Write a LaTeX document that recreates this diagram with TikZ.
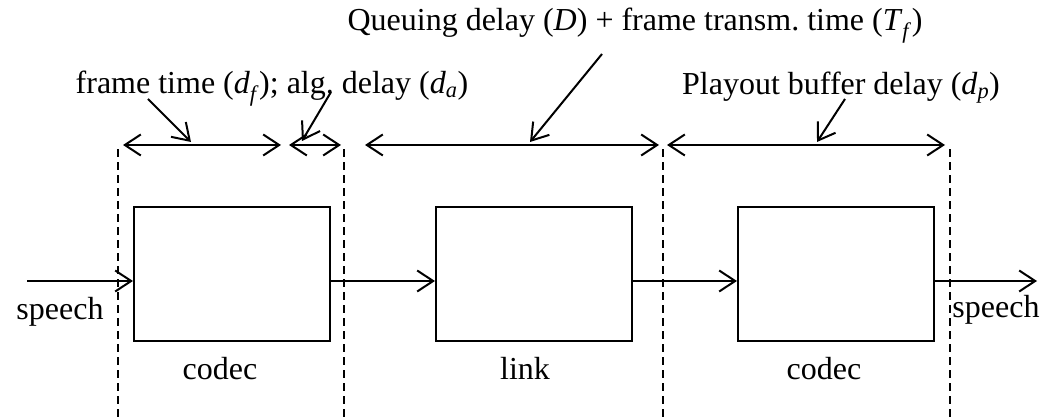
\documentclass[tikz,border=0pt]{standalone}
\usepackage{fontspec}
\setmainfont{Liberation Serif}
\usetikzlibrary{arrows.meta,positioning}

\newcommand{\dly}[2]{\textit{#1}\textsubscript{\textit{#2}}}

\begin{document}
\begin{tikzpicture}[x=1pt,y=1pt,line width=2pt,
    >={Straight Barb[length=16pt,width=21pt]},
    every node/.style={font=\fontsize{32}{38}\selectfont},
    block/.style={draw,minimum width=196pt,minimum height=134pt,inner sep=0pt},
    guide/.style={dash pattern=on 8pt off 5pt},
    node distance=104pt]
      \useasboundingbox (0,0) rectangle (1043,417);

      \node[block] (encoder) at (232,143) {};
      \node[block, right=of encoder] (link) {};
      \node[block, right=of link] (decoder) {};
      \node[anchor=base] (encoder label) at ([xshift=-12pt,yshift=-38pt]encoder.south) {codec};
      \node[anchor=base] (link label) at ([xshift=-9pt,yshift=-38pt]link.south) {link};
      \node[anchor=base] (decoder label) at ([xshift=-12pt,yshift=-38pt]decoder.south) {codec};
      \node[anchor=base] (src) at (60,97) {speech};
      \node[anchor=base] (sink) at (996,99) {speech};

      \coordinate (in) at (27,136);
      \coordinate (out) at (1037,136);
      \draw[->] (in) -- ([yshift=-7pt]encoder.west);
      \draw[->] ([yshift=-7pt]encoder.east) -- ([yshift=-7pt]link.west);
      \draw[->] ([yshift=-7pt]link.east) -- ([yshift=-7pt]decoder.west);
      \draw[->] ([yshift=-7pt]decoder.east) -- (out);

      \foreach \x in {118,344,663,950}
        \draw[guide] (\x,0) -- (\x,272);

      \coordinate (frame start) at (123,272);
      \coordinate (frame end) at (281,272);
      \coordinate (alg start) at (289,272);
      \coordinate (alg end) at (341,272);
      \coordinate (queue start) at (365,272);
      \coordinate (queue end) at (659,272);
      \coordinate (playout start) at (667,272);
      \coordinate (playout end) at (945,272);
      \draw[<->] (frame start) -- (frame end);
      \draw[<->] (alg start) -- (alg end);
      \draw[<->] (queue start) -- (queue end);
      \draw[<->] (playout start) -- (playout end);

      \node[anchor=base] (frame lbl) at (272,323)
        {frame time (\dly{d}{f}); alg.\ delay (\dly{d}{a})};
      \node[anchor=base] (queue lbl) at (635,386)
        {Queuing delay (\textit{D}) + frame transm.\ time (\dly{T}{f})};
      \node[anchor=base] (playout lbl) at (841,322)
        {Playout buffer delay (\dly{d}{p})};

      \coordinate (frame ptr) at (148,318);
      \coordinate (alg ptr) at (331,325);
      \coordinate (queue ptr) at (602,363);
      \coordinate (playout ptr) at (845,318);
      \draw[->] (frame ptr) -- (191,275);
      \draw[->] (alg ptr) -- (302,276);
      \draw[->] (queue ptr) -- (530,275);
      \draw[->] (playout ptr) -- (817,275);
    \end{tikzpicture}
\end{document}
